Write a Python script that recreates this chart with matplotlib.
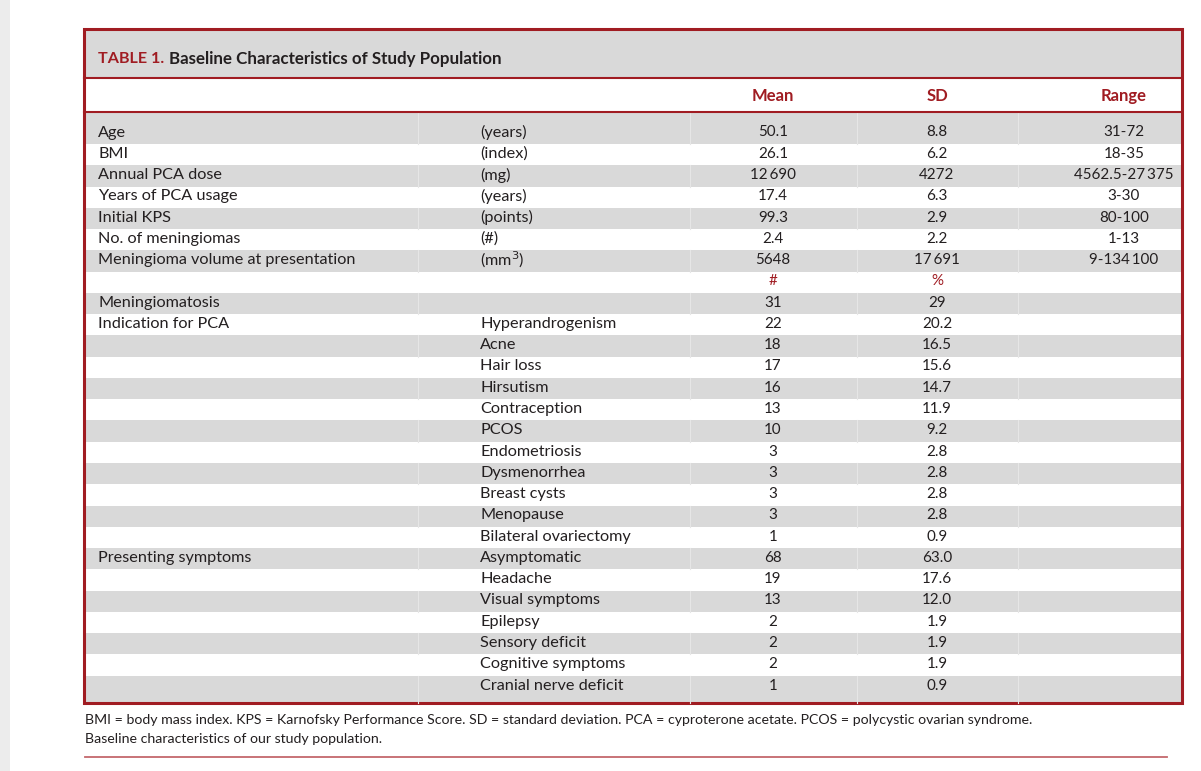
import matplotlib.pyplot as plt
from matplotlib.patches import Rectangle

# Table content
labels = ["Age", "BMI", "Annual PCA dose", "Years of PCA usage", "Initial KPS",
          "No. of meningiomas", "Meningioma volume at presentation", "",
          "Meningiomatosis", "Indication for PCA", "", "", "", "", "", "", "",
          "", "", "", "Presenting symptoms", "", "", "", "", "", ""]
units = ["(years)", "(index)", "(mg)", "(years)", "(points)", "(#)", "(mm$^3$)", "",
         "", "Hyperandrogenism", "Acne", "Hair loss", "Hirsutism", "Contraception",
         "PCOS", "Endometriosis", "Dysmenorrhea", "Breast cysts", "Menopause",
         "Bilateral ovariectomy", "Asymptomatic", "Headache", "Visual symptoms",
         "Epilepsy", "Sensory deficit", "Cognitive symptoms", "Cranial nerve deficit"]
mean = ["50.1", "26.1", "12\u2009690", "17.4", "99.3", "2.4", "5648", "#", "31",
        "22", "18", "17", "16", "13", "10", "3", "3", "3", "3", "1",
        "68", "19", "13", "2", "2", "2", "1"]
sd = ["8.8", "6.2", "4272", "6.3", "2.9", "2.2", "17\u2009691", "%", "29",
      "20.2", "16.5", "15.6", "14.7", "11.9", "9.2", "2.8", "2.8", "2.8", "2.8", "0.9",
      "63.0", "17.6", "12.0", "1.9", "1.9", "1.9", "0.9"]
ranges = ["31-72", "18-35", "4562.5-27\u2009375", "3-30", "80-100", "1-13",
          "9-134\u2009100"] + [""] * 20
header = ["Mean", "SD", "Range"]
footnote = ["BMI = body mass index. KPS = Karnofsky Performance Score. SD = standard deviation. "
            "PCA = cyproterone acetate. PCOS = polycystic ovarian syndrome.",
            "Baseline characteristics of our study population."]

RED = "#a01c22"
GRAY = "#d9d9d9"
TXT = "#231f20"
plt.rcParams["font.family"] = ["Lato", "DejaVu Sans"]

fig = plt.figure(figsize=(12.01, 7.71), dpi=100)
ax = fig.add_axes([0, 0, 1, 1])
ax.set_xlim(0, 1201)
ax.set_ylim(771, 0)
ax.axis("off")

# page shadow on the left
ax.add_patch(Rectangle((0, 0), 10, 771, color="#ececec", lw=0))

L, R, T, B = 83.5, 1182, 29, 703
ax.add_patch(Rectangle((L, T), R - L, 49, color=GRAY, lw=0))

y0, row_h = 131, 21.27
n = len(labels)
dividers = [418, 690, 857, 1018]
for i in range(0, n, 2):
    top = 112 if i == 0 else y0 + i * row_h - 8.3
    bot = B if i == n - 1 else y0 + (i + 1) * row_h - 8.3
    ax.add_patch(Rectangle((L, top), R - L, bot - top, color=GRAY, lw=0))
    for cx in dividers:
        ax.plot([cx, cx], [top, bot], color="#e6e6e6", lw=0.8)
ax.plot([L, R], [78, 78], color=RED, lw=1.5)
ax.plot([L, R], [112, 112], color=RED, lw=1.5)
ax.add_patch(Rectangle((L, T), R - L, B - T, fill=False, ec=RED, lw=2.2))

# title
fs = 11.7
ax.text(98, 59, "TABLE 1.", color=RED, fontsize=11.6, fontweight="bold", va="center")
ax.text(169, 59, "Baseline Characteristics of Study Population", color=TXT,
        fontsize=12.2, fontweight="bold", va="center")

centers = [773, 937, 1124]
for cx, h in zip(centers, header):
    ax.text(cx, 96, h, color=RED, fontsize=12, fontweight="bold", ha="center", va="center")

for i in range(n):
    y = y0 + i * row_h + 1.5
    ax.text(98, y, labels[i], color=TXT, fontsize=fs, va="center")
    ax.text(480, y, units[i], color=TXT, fontsize=fs, va="center")
    c = RED if mean[i] == "#" else TXT
    ax.text(centers[0], y, mean[i], color=c, fontsize=fs - 0.8, ha="center", va="center")
    ax.text(centers[1], y, sd[i], color=c, fontsize=fs - 0.8, ha="center", va="center")
    ax.text(centers[2], y, ranges[i], color=TXT, fontsize=fs - 0.8, ha="center", va="center")

ax.text(85, 720, footnote[0], color=TXT, fontsize=10.2, va="center")
ax.text(85, 739, footnote[1], color=TXT, fontsize=10.2, va="center")
ax.plot([85, 1167], [757, 757], color="#c4686c", lw=1.3)

fig.savefig("out.png", dpi=100)
